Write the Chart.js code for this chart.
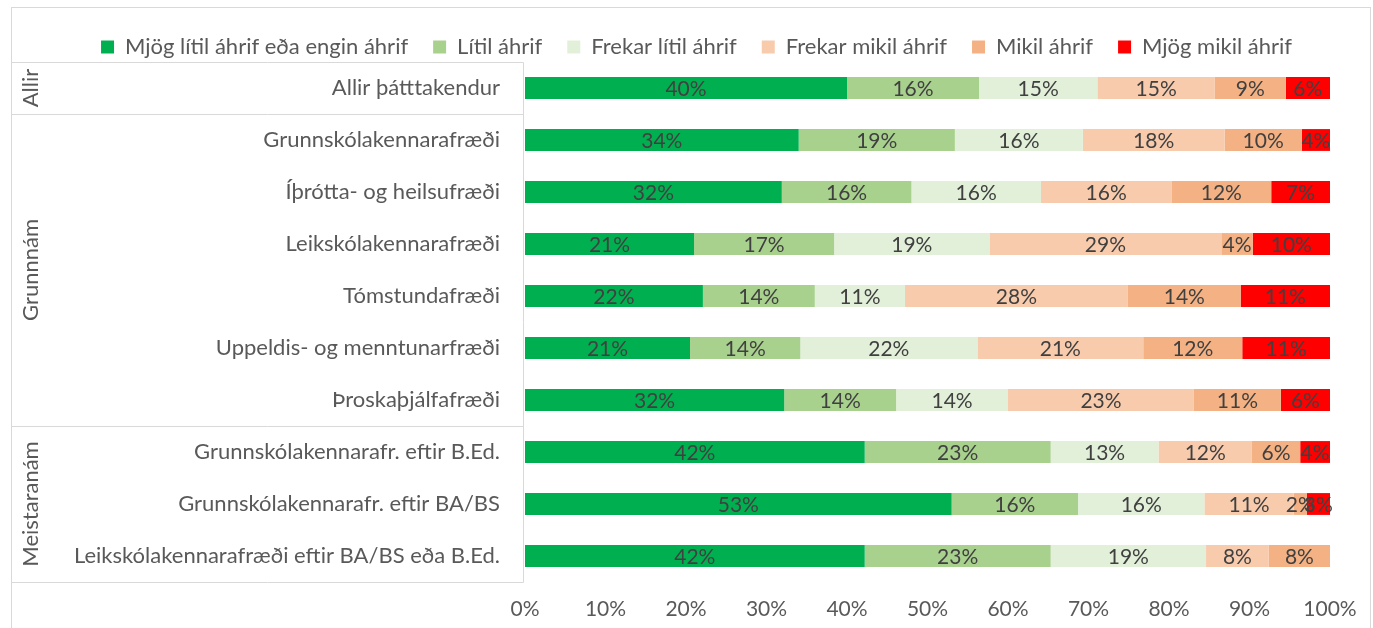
<!DOCTYPE html>
<html>
<head>
<meta charset="utf-8">
<script src="https://cdn.jsdelivr.net/npm/chart.js@4"></script>
<style>
body{margin:0;background:#fff;}
#wrap{width:1373px;height:628px;}
</style>
</head>
<body>
<div id="wrap"><canvas id="chart" width="1373" height="628"></canvas></div>
<script>
// categories (top to bottom) and the groups they belong to
const categories = ['Allir þátttakendur','Grunnskólakennarafræði','Íþrótta- og heilsufræði','Leikskólakennarafræði','Tómstundafræði','Uppeldis- og menntunarfræði','Þroskaþjálfafræði','Grunnskólakennarafr. eftir B.Ed.','Grunnskólakennarafr. eftir BA/BS','Leikskólakennarafræði eftir BA/BS eða B.Ed.'];
const groupNames = ['Allir','Grunnnám','Meistaranám'];
const groupSizes = [1, 6, 3];

const seriesNames = ['Mjög lítil áhrif eða engin áhrif','Lítil áhrif','Frekar lítil áhrif','Frekar mikil áhrif','Mikil áhrif','Mjög mikil áhrif'];
const seriesColors = ['#00B050','#A9D18E','#E2F0D9','#F8CBAD','#F4B183','#FF0000'];

// percentages
const mjogLitil   = [40.0, 34.0, 31.9, 21.0, 22.1, 20.5, 32.2, 42.2, 53.0, 42.2];
const litil       = [16.4, 19.4, 16.1, 17.4, 13.9, 13.7, 13.9, 23.1, 15.7, 23.1];
const frekarLitil = [14.7, 15.9, 16.1, 19.3, 11.2, 22.0, 13.9, 13.4, 15.7, 19.3];
const frekarMikil = [14.6, 17.6, 16.2, 28.8, 27.7, 20.6, 23.1, 11.6, 11.1, 7.8];
const mikil       = [8.8, 9.6, 12.4, 3.9, 14.0, 12.3, 10.8, 6.0, 1.6, 7.6];
const mjogMikil   = [5.5, 3.5, 7.3, 9.6, 11.1, 10.9, 6.1, 3.7, 2.9, 0];

const allSeries = [mjogLitil, litil, frekarLitil, frekarMikil, mikil, mjogMikil];

const fontFamily = 'Lato, "Open Sans", sans-serif';
const fontSize = 22;
const numberSize = 21;
const textColor = '#595959';
const lineColor = '#d9d9d9';

// draws the value in the middle of each bar piece
const barLabels = {
    id: 'barLabels',
    afterDatasetsDraw(chart) {
        const ctx = chart.ctx;
        ctx.save();
        ctx.font = numberSize + 'px ' + fontFamily;
        ctx.fillStyle = '#404040';
        ctx.textAlign = 'center';
        ctx.textBaseline = 'middle';
        chart.data.datasets.forEach(function(ds, i) {
            chart.getDatasetMeta(i).data.forEach(function(bar, j) {
                var v = ds.data[j];
                if (!v) return;
                var p = bar.getProps(['x', 'base', 'y'], true);
                ctx.fillText(Math.round(v) + '%', (p.x + p.base) / 2, p.y + 1);
            });
        });
        ctx.restore();
    }
};

// outer border, the group table on the left and the rotated group names
const frame = {
    id: 'frame',
    afterLayout(chart) {
        // nudge legend down a little, closer to the plot
        chart.legend.top += 6;
        chart.legend.bottom += 6;
    },
    afterDraw(chart) {
        const ctx = chart.ctx;
        const a = chart.chartArea;
        const ys = chart.scales.y;
        const edge = function(i) {
            if (i <= 0) return a.top;
            if (i >= categories.length) return a.bottom;
            return (ys.getPixelForValue(i - 1) + ys.getPixelForValue(i)) / 2;
        };
        ctx.save();
        ctx.strokeStyle = lineColor;
        ctx.lineWidth = 1;
        ctx.strokeRect(11.5, 7.5, 1359, 640);

        const left = 11.5, right = Math.round(a.left) - 1.5;
        ctx.beginPath();
        var idx = 0;
        ctx.moveTo(left, Math.round(edge(0)) + 0.5);
        ctx.lineTo(right, Math.round(edge(0)) + 0.5);
        ctx.font = fontSize + 'px ' + fontFamily;
        ctx.fillStyle = textColor;
        ctx.textAlign = 'center';
        ctx.textBaseline = 'middle';
        groupSizes.forEach(function(n, g) {
            var y0 = edge(idx), y1 = edge(idx + n);
            idx += n;
            ctx.moveTo(left, Math.round(y1) + 0.5);
            ctx.lineTo(right, Math.round(y1) + 0.5);
            ctx.save();
            ctx.translate(31, (y0 + y1) / 2);
            ctx.rotate(-Math.PI / 2);
            ctx.fillText(groupNames[g], 0, 0);
            ctx.restore();
        });
        ctx.moveTo(right, Math.round(a.top) + 0.5);
        ctx.lineTo(right, Math.round(a.bottom) + 0.5);
        ctx.stroke();
        ctx.restore();
    }
};

const datasets = seriesNames.map(function(name, i) {
    return {
        label: name,
        data: allSeries[i],
        backgroundColor: seriesColors[i],
        borderWidth: 0,
        barPercentage: 0.42,
        categoryPercentage: 1
    };
});

const padLeft = 63;

new Chart(document.getElementById('chart'), {
    type: 'bar',
    data: { labels: categories, datasets: datasets },
    plugins: [barLabels, frame],
    options: {
        indexAxis: 'y',
        responsive: false,
        animation: false,
        layout: { padding: { top: 5, right: 43, left: padLeft, bottom: 0 } },
        plugins: {
            legend: {
                position: 'top',
                labels: {
                    boxWidth: 13,
                    boxHeight: 13,
                    padding: 25,
                    color: textColor,
                    font: { family: fontFamily, size: fontSize }
                }
            },
            tooltip: { enabled: false }
        },
        scales: {
            x: {
                stacked: true,
                min: 0,
                max: 100,
                ticks: {
                    stepSize: 10,
                    padding: 15,
                    color: textColor,
                    font: { family: fontFamily, size: numberSize },
                    callback: function(v) { return v + '%'; }
                },
                grid: { display: false, drawTicks: false },
                border: { display: false },
                afterFit: function(scale) { scale.height = 46; }
            },
            y: {
                stacked: true,
                ticks: {
                    padding: 25,
                    color: textColor,
                    font: { family: fontFamily, size: fontSize }
                },
                grid: { display: false, drawTicks: false },
                border: { display: false },
                afterFit: function(scale) { scale.width = 525 - padLeft; }
            }
        }
    }
});
</script>
</body>
</html>
